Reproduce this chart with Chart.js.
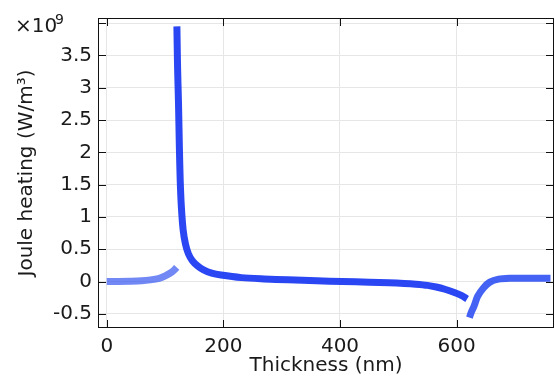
<!DOCTYPE html>
<html>
<head>
<meta charset="utf-8">
<script src="https://cdn.jsdelivr.net/npm/chart.js@4.4.1/dist/chart.umd.min.js"></script>
<style>
  html, body { margin: 0; padding: 0; background: #fff; }
  #wrap { width: 555px; height: 378px; }
</style>
</head>
<body>
<div id="wrap"><canvas id="joule-canvas"></canvas></div>
<script>
// values in units of 1e9 W/m^3, thickness in nm
const layer1X = [0, 20, 40, 60, 75, 90, 98, 105, 112, 117, 120];
const layer1Y = [0, 0, 0.003, 0.01, 0.025, 0.05, 0.077, 0.11, 0.15, 0.19, 0.22];

const layer2X = [120.3, 121.5, 123, 124.5, 126, 128, 131, 135, 140, 147, 156, 166, 180, 196, 231, 270, 311, 360, 404, 450, 484, 510, 530, 550, 565, 580, 595, 608, 618];
const layer2Y = [3.95, 3.3, 2.78, 2.1, 1.56, 1.15, 0.8, 0.58, 0.43, 0.32, 0.24, 0.18, 0.13, 0.1, 0.06, 0.04, 0.026, 0.01, 0, -0.01, -0.02, -0.03, -0.042, -0.06, -0.085, -0.12, -0.165, -0.215, -0.27];

const layer3X = [622, 625, 630, 636, 646, 657, 672, 692, 720, 761];
const layer3Y = [-0.56, -0.48, -0.38, -0.23, -0.1, -0.01, 0.036, 0.05, 0.052, 0.052];

const xTickValues = [0, 200, 400, 600];
const yTickValues = [-0.5, 0, 0.5, 1, 1.5, 2, 2.5, 3, 3.5, 4];

const toPoints = (xs, ys) => xs.map((x, i) => ({ x: x, y: ys[i] }));

const tickFont = { family: "DejaVu Sans", size: 20 };
const textColor = "#1a1a1a";

const lineStyle = {
  borderWidth: 7,
  pointRadius: 0,
  tension: 0.3,
  borderCapStyle: "butt",
  fill: false,
};

// frame, inward ticks and the exponent label
const framePlugin = {
  id: "frame",
  afterDraw(chart) {
    const { ctx, chartArea: a, scales } = chart;
    ctx.save();
    ctx.strokeStyle = "#111";
    ctx.lineWidth = 1;
    ctx.strokeRect(a.left + 0.5, a.top + 0.5, a.right - a.left - 1, a.bottom - a.top - 1);
    ctx.beginPath();
    xTickValues.forEach((v) => {
      const px = Math.round(scales.x.getPixelForValue(v)) + 0.5;
      ctx.moveTo(px, a.bottom);
      ctx.lineTo(px, a.bottom - 8);
      ctx.moveTo(px, a.top);
      ctx.lineTo(px, a.top + 8);
    });
    yTickValues.forEach((v) => {
      const py = Math.round(scales.y.getPixelForValue(v)) + 0.5;
      ctx.moveTo(a.left, py);
      ctx.lineTo(a.left + 8, py);
      ctx.moveTo(a.right, py);
      ctx.lineTo(a.right - 8, py);
    });
    ctx.stroke();

    ctx.fillStyle = textColor;
    ctx.textBaseline = "alphabetic";
    ctx.textAlign = "left";
    ctx.font = "20px 'DejaVu Sans'";
    ctx.fillText("\u00d710", 15, 32);
    ctx.font = "14px 'DejaVu Sans'";
    ctx.fillText("9", 55, 24);
    ctx.restore();
  },
};

new Chart(document.getElementById("joule-canvas"), {
  type: "line",
  data: {
    datasets: [
      {
        label: "layer 1",
        data: toPoints(layer1X, layer1Y),
        borderColor: "rgba(45, 80, 240, 0.68)",
        ...lineStyle,
      },
      {
        label: "layer 2",
        data: toPoints(layer2X, layer2Y),
        borderColor: "rgba(25, 55, 242, 0.92)",
        ...lineStyle,
      },
      {
        label: "layer 3",
        data: toPoints(layer3X, layer3Y),
        borderColor: "rgba(35, 70, 242, 0.85)",
        ...lineStyle,
      },
    ],
  },
  options: {
    responsive: true,
    maintainAspectRatio: false,
    animation: false,
    layout: {
      padding: { top: 15, right: 1, left: 0, bottom: 0 },
    },
    scales: {
      x: {
        type: "linear",
        min: -15,
        max: 767,
        afterFit: (scale) => {
          scale.height = 50;
        },
        afterBuildTicks: (scale) => {
          scale.ticks = xTickValues.map((v) => ({ value: v }));
        },
        ticks: {
          font: tickFont,
          color: textColor,
          padding: 7,
          maxRotation: 0,
        },
        grid: {
          color: "#e6e6e6",
          drawTicks: false,
        },
        border: { display: false },
        title: {
          display: true,
          text: "Thickness (nm)",
          font: tickFont,
          color: textColor,
          padding: { top: 0, bottom: 0 },
        },
      },
      y: {
        min: -0.72,
        max: 4.08,
        afterFit: (scale) => {
          scale.width = 98;
        },
        afterBuildTicks: (scale) => {
          scale.ticks = yTickValues.map((v) => ({ value: v }));
        },
        ticks: {
          font: tickFont,
          color: textColor,
          padding: 6,
          callback: (value) => (value === 4 ? "" : String(value)),
        },
        grid: {
          color: "#e6e6e6",
          drawTicks: false,
        },
        border: { display: false },
        title: {
          display: true,
          text: "Joule heating (W/m\u00b3)",
          font: tickFont,
          color: textColor,
          padding: { top: 15, bottom: 0 },
        },
      },
    },
    plugins: {
      legend: { display: false },
      tooltip: { enabled: false },
    },
  },
  plugins: [framePlugin],
});
</script>
</body>
</html>
